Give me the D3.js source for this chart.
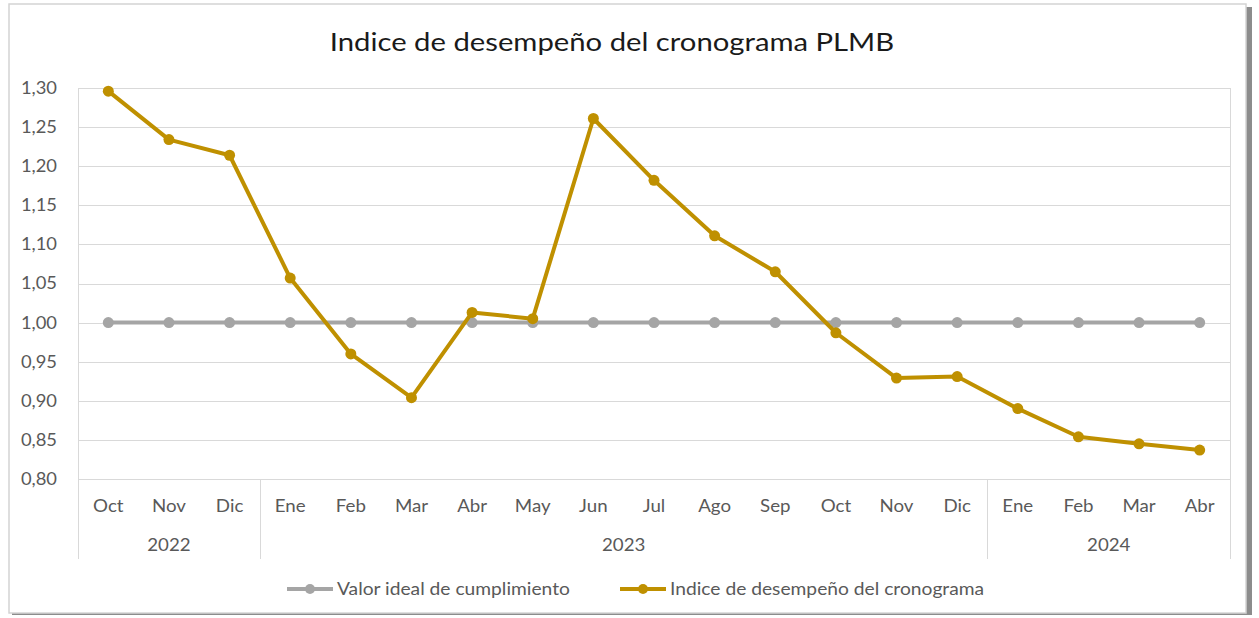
<!DOCTYPE html>
<html>
<head>
<meta charset="utf-8">
<script src="https://cdn.jsdelivr.net/npm/d3@7"></script>
<style>
  html, body { margin: 0; padding: 0; background: #ffffff; }
  svg { display: block; font-family: Lato, "Open Sans", sans-serif; }
</style>
</head>
<body>
<svg id="chart" width="1259" height="618"></svg>
<script>
// Month labels and the year each one belongs to
const months = ["Oct","Nov","Dic","Ene","Feb","Mar","Abr","May","Jun","Jul","Ago","Sep","Oct","Nov","Dic","Ene","Feb","Mar","Abr"];
const years = ["2022","2022","2022","2023","2023","2023","2023","2023","2023","2023","2023","2023","2023","2023","2023","2024","2024","2024","2024"];

// Schedule performance index (SPI) per month
const spiValues = [1.296,1.234,1.214,1.057,0.960,0.904,1.013,1.005,1.261,1.182,1.111,1.065,0.987,0.929,0.931,0.890,0.854,0.845,0.837];
// Ideal compliance value
const idealValues = months.map(() => 1.00);

const yTicks = [0.80,0.85,0.90,0.95,1.00,1.05,1.10,1.15,1.20,1.25,1.30];

const seriesNames = ["Valor ideal de cumplimiento", "Indice de desempeño del cronograma"];
const seriesColors = ["#A5A5A5", "#BF9000"];

const svg = d3.select("#chart");

// Widen text glyphs horizontally by a factor
function stretch(sel, factor) {
  sel.each(function () {
    const w = this.getComputedTextLength();
    d3.select(this).attr("textLength", w * factor).attr("lengthAdjust", "spacingAndGlyphs");
  });
}

// Chart frame with drop shadow
svg.append("rect").attr("x", 12).attr("y", 7).attr("width", 1240).attr("height", 608)
  .attr("fill", "#8c8c8c");
svg.append("rect").attr("x", 9).attr("y", 4).attr("width", 1237).attr("height", 609)
  .attr("fill", "#ffffff").attr("stroke", "#d4d4d4").attr("stroke-width", 1.5);

const plotLeft = 78, plotRight = 1230, plotTop = 88, plotBottom = 479;

const x = d3.scaleBand().domain(d3.range(months.length)).range([plotLeft, plotRight]).padding(0);
const y = d3.scaleLinear().domain([0.80, 1.30]).range([plotBottom, plotTop]);
const cx = i => x(i) + x.bandwidth() / 2;

// Title
svg.append("text").attr("x", 612).attr("y", 51).attr("text-anchor", "middle")
  .attr("font-size", 25).attr("fill", "#1a1a1a")
  .text("Indice de desempeño del cronograma PLMB")
  .call(stretch, 1.17);

// Gridlines
svg.append("g").selectAll("line").data(yTicks).join("line")
  .attr("x1", plotLeft).attr("x2", plotRight)
  .attr("y1", d => Math.round(y(d)) + 0.5).attr("y2", d => Math.round(y(d)) + 0.5)
  .attr("stroke", "#d9d9d9").attr("stroke-width", 1);

// Plot area side borders
[plotLeft, plotRight].forEach(px => {
  svg.append("line").attr("x1", px + 0.5).attr("x2", px + 0.5).attr("y1", plotTop).attr("y2", plotBottom)
    .attr("stroke", "#d9d9d9");
});

// Y axis labels
const fmt = d => d.toFixed(2).replace(".", ",");
const yAxis = d3.axisLeft(y).tickValues(yTicks).tickFormat(fmt).tickSize(0).tickPadding(21);
const yg = svg.append("g").attr("transform", `translate(${plotLeft},0)`).call(yAxis);
yg.select(".domain").remove();
yg.selectAll("text").attr("font-size", 17).attr("fill", "#595959")
  .attr("font-family", "Lato, 'Open Sans', sans-serif").call(stretch, 1.08);

// X axis: months
const xAxis = d3.axisBottom(x).tickFormat(i => months[i]).tickSize(0).tickPadding(21);
const xg = svg.append("g").attr("transform", `translate(0,${plotBottom})`).call(xAxis);
xg.select(".domain").remove();
xg.selectAll("text").attr("font-size", 17).attr("fill", "#595959")
  .attr("font-family", "Lato, 'Open Sans', sans-serif").call(stretch, 1.1);

// Year groups with separators
const groups = [];
years.forEach((yr, i) => {
  const g = groups[groups.length - 1];
  if (g && g.year === yr) g.end = i; else groups.push({ year: yr, start: i, end: i });
});
const sepY2 = 559;
const seps = [plotLeft].concat(groups.map(g => x(g.end) + x.bandwidth()));
svg.append("g").selectAll("line").data(seps).join("line")
  .attr("x1", d => Math.round(d) + 0.5).attr("x2", d => Math.round(d) + 0.5)
  .attr("y1", plotBottom).attr("y2", sepY2).attr("stroke", "#d9d9d9");
svg.append("g").selectAll("text").data(groups).join("text")
  .attr("x", g => (x(g.start) + x(g.end) + x.bandwidth()) / 2)
  .attr("y", 551).attr("text-anchor", "middle")
  .attr("font-size", 17).attr("fill", "#595959")
  .text(g => g.year)
  .call(stretch, 1.1);

// Series lines and markers
const line = d3.line().x((d, i) => cx(i)).y(d => y(d));
[idealValues, spiValues].forEach((vals, k) => {
  svg.append("path").datum(vals).attr("d", line)
    .attr("fill", "none").attr("stroke", seriesColors[k]).attr("stroke-width", 4)
    .attr("stroke-linejoin", "round");
  svg.append("g").selectAll("circle").data(vals).join("circle")
    .attr("cx", (d, i) => cx(i)).attr("cy", d => y(d)).attr("r", 5.5)
    .attr("fill", seriesColors[k]);
});

// Legend
const legendItems = [{ x: 287, name: seriesNames[0], color: seriesColors[0] },
                     { x: 620, name: seriesNames[1], color: seriesColors[1] }];
const lg = svg.append("g").selectAll("g").data(legendItems).join("g")
  .attr("transform", d => `translate(${d.x},589)`);
lg.append("line").attr("x1", 0).attr("x2", 46).attr("y1", 0).attr("y2", 0)
  .attr("stroke", d => d.color).attr("stroke-width", 4);
lg.append("circle").attr("cx", 23).attr("cy", 0).attr("r", 5).attr("fill", d => d.color);
lg.append("text").attr("x", 50).attr("y", 6).attr("font-size", 17).attr("fill", "#595959")
  .text(d => d.name)
  .call(stretch, 1.13);
</script>
</body>
</html>
